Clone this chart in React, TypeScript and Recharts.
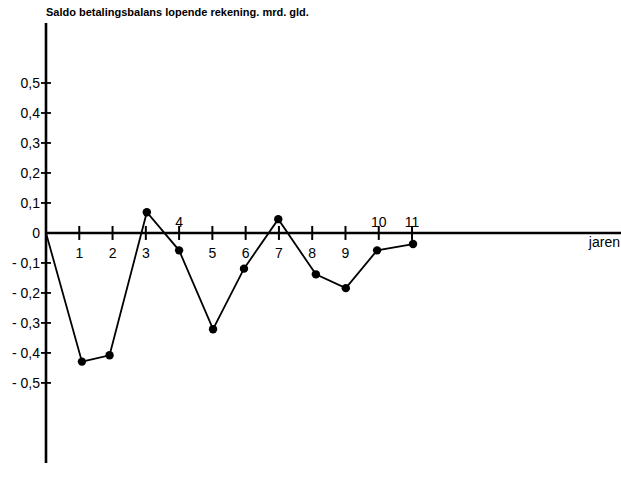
import { LineChart, Line, XAxis, YAxis, ReferenceLine, Label } from 'recharts'

const years = [0, 1.08, 1.91, 3.03, 4.0, 5.02, 5.95, 6.98, 8.11, 9.01, 9.95, 11.03]
const saldo = [0, -0.429, -0.408, 0.069, -0.058, -0.321, -0.119, 0.046, -0.138, -0.184, -0.058, -0.037]
const xTicks = [1, 2, 3, 4, 5, 6, 7, 8, 9, 10, 11]
const xTicksAbove = [4, 10, 11]
const yTicks = [-0.5, -0.4, -0.3, -0.2, -0.1, 0, 0.1, 0.2, 0.3, 0.4, 0.5]

const data = years.map((jaar, i) => ({ jaar, saldo: saldo[i] }))

const W = 621
const H = 489
const TOP = 23
const BOTTOM = 26
const Y_MIN = -0.767
const Y_MAX = 0.7
const X_MAX = 17.28
const FONT = '"Liberation Sans", Arial, sans-serif'

const zeroY = TOP + (Y_MAX / (Y_MAX - Y_MIN)) * (H - TOP - BOTTOM)

function fmtY(v: number) {
  const s = Math.abs(v).toFixed(1).replace('.', ',')
  if (v === 0) return '0'
  return v < 0 ? '- ' + s : s
}

function XTick(props: any) {
  const { x, payload } = props
  const above = xTicksAbove.includes(payload.value)
  return (
    <g>
      <line x1={x} x2={x} y1={zeroY - 7} y2={zeroY + 7} stroke="#000" strokeWidth={2} />
      <text x={x} y={above ? zeroY - 6 : zeroY + 25} textAnchor="middle" fontFamily={FONT} fontSize={14} fill="#000">
        {payload.value}
      </text>
    </g>
  )
}

function YTick(props: any) {
  const { y, payload } = props
  const ax = 46
  return (
    <g>
      {payload.value !== 0 && (
        <line x1={ax - 5} x2={ax + 5} y1={y} y2={y} stroke="#000" strokeWidth={1.8} />
      )}
      <text x={ax - 6} y={y + 5} textAnchor="end" fontFamily={FONT} fontSize={14} fill="#000">
        {fmtY(payload.value)}
      </text>
    </g>
  )
}

function Dot(props: any) {
  const { cx, cy, index } = props
  if (index === 0) return <g key={index} />
  return <circle key={index} cx={cx} cy={cy} r={4.2} fill="#000" />
}

export default function App() {
  return (
    <div style={{ position: 'absolute', left: 0, top: 0, width: W, height: H, background: '#fff' }}>
      <div
        style={{
          position: 'absolute', left: 46, top: 6, fontFamily: FONT, fontWeight: 'bold',
          fontSize: 11, color: '#000', whiteSpace: 'nowrap',
        }}
      >
        Saldo betalingsbalans lopende rekening. mrd. gld.
      </div>
      <LineChart width={W} height={H} data={data} margin={{ top: TOP, right: 0, bottom: BOTTOM - 1, left: 0 }}>
        <XAxis
          dataKey="jaar" type="number" domain={[0, X_MAX]} ticks={xTicks} allowDataOverflow
          axisLine={false} tickLine={false} height={1} tick={<XTick />} interval={0}
        />
        <YAxis
          type="number" domain={[Y_MIN, Y_MAX]} ticks={yTicks} allowDataOverflow width={46}
          axisLine={{ stroke: '#000', strokeWidth: 2.6 }} tickLine={false} tick={<YTick />} interval={0}
        />
        <ReferenceLine y={0} stroke="#000" strokeWidth={2.4}>
          <Label value="jaren" position="insideTopRight" offset={4} dx={3} fontFamily={FONT} fontSize={14} fill="#000" />
        </ReferenceLine>
        <Line
          dataKey="saldo" stroke="#000" strokeWidth={1.8} dot={<Dot />} isAnimationActive={false}
        />
      </LineChart>
    </div>
  )
}
